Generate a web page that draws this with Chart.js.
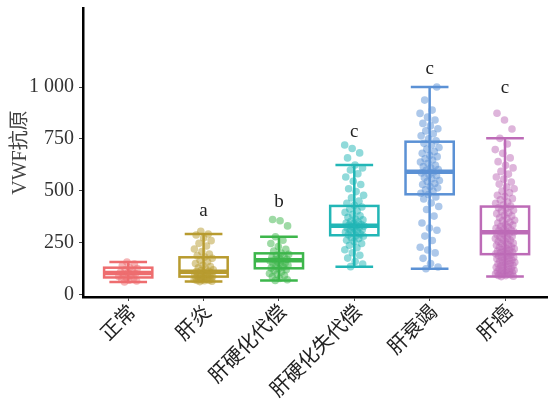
<!DOCTYPE html>
<html>
<head>
<meta charset="utf-8">
<script src="https://cdn.jsdelivr.net/npm/chart.js@4/dist/chart.umd.min.js"></script>
<style>
  html, body { margin: 0; padding: 0; background: #fff; overflow: hidden; }
  #wrap { width: 551px; height: 406px; position: relative; }
</style>
</head>
<body>
<div id="wrap"><canvas id="c"></canvas></div>
<script>
// Groups along the x axis
const categories = ['正常', '肝炎', '肝硬化代偿', '肝硬化失代偿', '肝衰竭', '肝癌'];
const groupColors = ['#EE6D6F', '#B89B2F', '#3DB64B', '#22B6B6', '#5B91D5', '#BD6BB7'];

// Box summaries (whisker ends, quartiles, median)
const boxMin    = [62, 64, 69, 136, 126, 88];
const boxQ1     = [84, 88, 128, 287, 484, 196];
const boxMedian = [105, 112, 167, 333, 593, 301];
const boxQ3     = [131, 181, 200, 428, 737, 425];
const boxMax    = [158, 293, 280, 625, 1000, 753];

// Significance letters and the height they sit at
const sigLetters = ['', 'a', 'b', 'c', 'c', 'c'];
const sigLetterY = [0, 404, 447, 784, 1087, 995];

// Y axis ticks
const yTicks = [0, 250, 500, 750, 1000];

// Individual measurements per group
const valsNormal = [62, 67, 71, 76, 81, 84, 89, 94, 99, 103, 106, 110, 115, 121, 127, 131, 141, 149, 158];
const valsHepatitis = [64, 66, 68, 69, 71, 72, 74, 76, 78, 79, 81, 83, 85, 87, 88, 90, 92, 94, 96, 98, 101, 103, 106, 109,
  112, 114, 117, 121, 125, 130, 136, 143, 151, 159, 167, 176, 182, 189, 197, 208, 221, 235, 248, 261, 274, 288, 293, 306];
const valsCompensated = [69, 73, 79, 87, 93, 99, 103, 111, 117, 121, 127, 130, 134, 139, 142, 147, 151, 154, 158, 163, 165,
  169, 171, 176, 181, 184, 191, 195, 201, 211, 219, 233, 247, 263, 280, 332, 357, 363];
const valsDecompensated = [136, 149, 161, 177, 191, 203, 217, 227, 239, 247, 257, 263, 271, 275, 282, 285, 289, 293, 299, 302,
  305, 311, 313, 317, 322, 325, 328, 331, 334, 336, 339, 343, 346, 351, 354, 361, 365, 373, 381, 387, 397, 404, 413, 423,
  431, 441, 451, 467, 479, 497, 511, 531, 547, 567, 583, 601, 611, 625, 659, 683, 704, 721];
const valsFailure = [126, 134, 151, 176, 202, 216, 229, 262, 283, 311, 322, 346, 379, 411, 425, 442, 461, 471, 483, 489, 499,
  505, 515, 521, 531, 536, 545, 550, 559, 564, 573, 578, 587, 591, 599, 603, 611, 618, 623, 633, 639, 649, 655, 665, 671,
  681, 689, 701, 709, 721, 729, 741, 751, 765, 775, 789, 799, 813, 825, 841, 855, 873, 889, 937, 1000];
const valsCancer = [88, 90, 93, 94, 97, 98, 101, 102, 105, 107, 108, 111, 113, 117, 119, 121, 126, 127, 132, 133, 138, 140,
  142, 147, 149, 151, 156, 157, 162, 163, 168, 169, 174, 175, 180, 181, 186, 187, 192, 193, 198, 199, 204, 205, 210, 211,
  216, 217, 222, 223, 228, 231, 233, 239, 241, 247, 249, 255, 257, 263, 265, 271, 273, 279, 281, 287, 289, 295, 297, 303,
  305, 311, 313, 319, 321, 327, 329, 336, 339, 346, 349, 356, 359, 367, 371, 379, 383, 391, 395, 403, 407, 415, 419, 427,
  432, 441, 447, 457, 463, 473, 479, 491, 499, 511, 519, 533, 543, 557, 567, 581, 594, 611, 624, 641, 659, 681, 699, 726,
  753, 798, 841, 874];
const groupValues = [valsNormal, valsHepatitis, valsCompensated, valsDecompensated, valsFailure, valsCancer];

// Horizontal spread of points around each group centre (deterministic low-discrepancy pattern)
const JITTER_HALF_WIDTH = 0.13;
function jitter(i) {
  const f = (i * 0.6180339887 + 0.31) % 1;
  return (f - 0.5) * 2 * JITTER_HALF_WIDTH;
}

function hexToRgba(hex, a) {
  const n = parseInt(hex.slice(1), 16);
  return `rgba(${(n >> 16) & 255}, ${(n >> 8) & 255}, ${n & 255}, ${a})`;
}

const SERIF = "'Liberation Serif', 'Noto Sans CJK SC', serif";

const datasets = groupValues.map((vals, g) => ({
  label: categories[g],
  data: vals.map((v, i) => ({ x: g + jitter(i), y: v })),
  backgroundColor: hexToRgba(groupColors[g], 0.5),
  borderWidth: 0,
  pointRadius: 3.8,
  pointHoverRadius: 3.8
}));

// Box-and-whisker layer, drawn beneath the points
const boxPlugin = {
  id: 'boxes',
  beforeDatasetsDraw(chart) {
    const { ctx, scales: { x, y } } = chart;
    const boxHalf = 0.32, capHalf = 0.25;
    ctx.save();
    categories.forEach((_, g) => {
      const cx = x.getPixelForValue(g);
      const bl = x.getPixelForValue(g - boxHalf), br = x.getPixelForValue(g + boxHalf);
      const cl = x.getPixelForValue(g - capHalf), cr = x.getPixelForValue(g + capHalf);
      const yMin = y.getPixelForValue(boxMin[g]), yMax = y.getPixelForValue(boxMax[g]);
      const yQ1 = y.getPixelForValue(boxQ1[g]), yQ3 = y.getPixelForValue(boxQ3[g]);
      const yMed = y.getPixelForValue(boxMedian[g]);
      ctx.strokeStyle = groupColors[g];
      ctx.lineCap = 'butt';
      ctx.lineWidth = 2.5;
      ctx.beginPath();
      ctx.moveTo(cx, yMin); ctx.lineTo(cx, yMax);
      ctx.moveTo(cl, yMin); ctx.lineTo(cr, yMin);
      ctx.moveTo(cl, yMax); ctx.lineTo(cr, yMax);
      ctx.stroke();
      ctx.strokeRect(bl, yQ3, br - bl, yQ1 - yQ3);
      ctx.lineWidth = 4.5;
      ctx.beginPath();
      ctx.moveTo(bl, yMed); ctx.lineTo(br, yMed);
      ctx.stroke();
    });
    ctx.restore();
  },
  afterDatasetsDraw(chart) {
    const { ctx, scales: { x, y } } = chart;
    ctx.save();
    ctx.fillStyle = '#222';
    ctx.font = `19px ${SERIF}`;
    ctx.textAlign = 'center';
    ctx.textBaseline = 'middle';
    sigLetters.forEach((t, g) => {
      if (!t) return;
      ctx.fillText(t, x.getPixelForValue(g), y.getPixelForValue(sigLetterY[g]));
    });
    ctx.restore();
  }
};

new Chart(document.getElementById('c'), {
  type: 'scatter',
  data: { datasets },
  plugins: [boxPlugin],
  options: {
    responsive: true,
    maintainAspectRatio: false,
    animation: false,
    layout: { padding: { top: 8, left: 0, right: 0, bottom: 0 } },
    plugins: { legend: { display: false }, tooltip: { enabled: false } },
    scales: {
      x: {
        type: 'linear',
        min: -0.6,
        max: 5.56,
        afterBuildTicks(scale) { scale.ticks = categories.map((_, i) => ({ value: i })); },
        afterFit(scale) { scale.height = 109; scale.paddingLeft = 0; scale.paddingRight = 0; },
        ticks: {
          autoSkip: false,
          minRotation: 45,
          maxRotation: 45,
          padding: 0,
          labelOffset: 5,
          color: '#222',
          font: { family: SERIF, size: 20 },
          callback: (v) => categories[v]
        },
        grid: { drawOnChartArea: false, drawTicks: true, tickLength: 4, color: '#444', lineWidth: 1 },
        border: { display: true, color: '#000', width: 2.5 }
      },
      y: {
        type: 'linear',
        min: -10,
        max: 1380,
        afterBuildTicks(scale) { scale.ticks = yTicks.map(v => ({ value: v })); },
        afterFit(scale) { scale.width = 83; scale.paddingTop = 0; scale.paddingBottom = 0; },
        ticks: {
          padding: 5,
          color: '#333',
          font: { family: SERIF, size: 20 },
          callback: (v) => v >= 1000 ? String(v).replace(/(\d)(\d{3})$/, '$1 $2') : String(v)
        },
        title: {
          display: true,
          text: 'VWF抗原',
          color: '#444',
          font: { family: SERIF, size: 20 },
          padding: { top: 9, bottom: 2 }
        },
        grid: { drawOnChartArea: false, drawTicks: true, tickLength: 4, color: '#444', lineWidth: 1 },
        border: { display: true, color: '#000', width: 2.5 }
      }
    }
  }
});
</script>
</body>
</html>
